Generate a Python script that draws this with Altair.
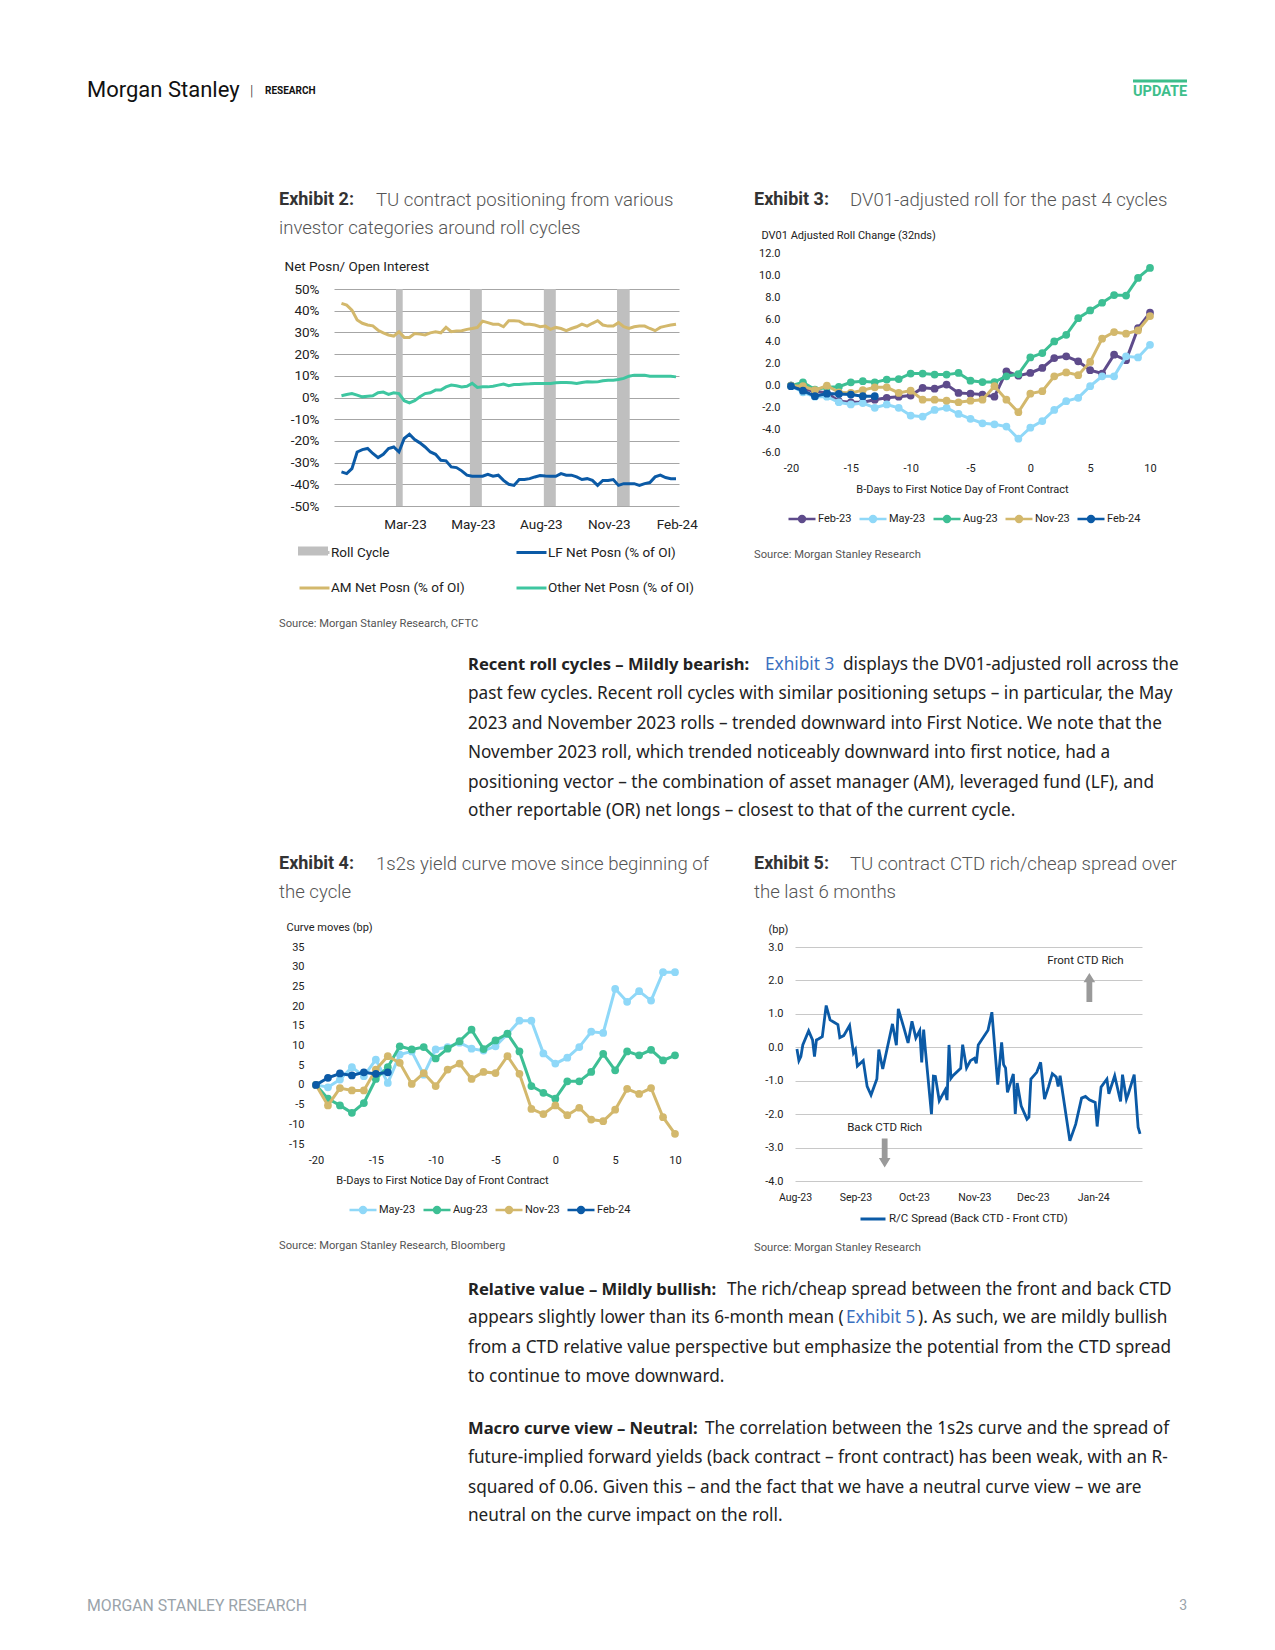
import altair as alt
import pandas as pd

# ------------------------------------------------------------------ data
# Exhibit 2: weekly net positioning, % of open interest
ex2_first_week = "2022-12-06"
ex2_am = [43.4, 42.6, 40.3, 35.7, 34.2, 33.4, 33.0, 31.0, 29.8, 28.8,
          28.3, 30.3, 27.7, 27.7, 29.5, 29.2, 28.8, 29.8, 30.3, 29.8,
          32.3, 30.3, 30.6, 30.8, 31.4, 31.8, 32.3, 35.2, 34.5, 33.8,
          33.8, 32.6, 35.4, 35.4, 35.2, 33.8, 33.8, 33.4, 32.6, 32.9,
          31.4, 32.3, 31.8, 30.8, 31.8, 32.6, 33.8, 32.9, 34.2, 35.4,
          33.4, 32.9, 32.9, 34.5, 32.6, 31.8, 32.6, 32.9, 32.9, 31.8,
          30.8, 32.3, 32.9, 33.4, 33.8]
ex2_other = [0.8, 1.4, 1.8, 1.1, 0.3, 0.6, 0.8, 2.2, 2.5, 1.4,
             2.2, 1.8, -1.5, -2.5, -1.5, 0.3, 1.8, 2.2, 3.4, 3.4,
             4.9, 5.7, 5.4, 4.9, 5.2, 6.5, 4.6, 4.9, 4.9, 5.2,
             5.7, 6.2, 5.4, 6.0, 6.0, 6.2, 6.3, 6.5, 6.5, 6.5,
             6.5, 6.8, 6.9, 6.9, 6.8, 6.5, 6.9, 7.2, 7.1, 7.2,
             7.7, 8.0, 8.0, 8.3, 8.8, 9.8, 10.3, 10.2, 10.2, 9.8,
             9.8, 9.8, 9.8, 9.8, 9.5]
ex2_lf = [-34.3, -35.1, -32.8, -25.1, -24.0, -23.5, -25.8, -27.7, -26.2, -23.5,
          -22.8, -25.1, -18.9, -16.9, -19.4, -20.9, -22.8, -25.1, -26.2, -28.9,
          -29.2, -32.0, -32.3, -33.8, -35.8, -36.3, -36.3, -36.3, -35.4, -36.3,
          -35.8, -38.2, -40.0, -40.5, -37.8, -37.8, -37.4, -36.6, -36.0, -36.2,
          -36.3, -36.3, -35.1, -35.8, -35.8, -36.6, -37.8, -37.4, -38.2, -40.5,
          -38.2, -38.2, -37.8, -40.5, -39.7, -39.7, -39.7, -40.5, -39.7, -39.2,
          -36.6, -35.8, -36.9, -37.4, -37.4]
ex2_roll_start = ["2023-02-17", "2023-05-27", "2023-09-03", "2023-12-10"]
ex2_roll_end = ["2023-02-26", "2023-06-12", "2023-09-19", "2023-12-27"]
ex2_roll_top = 50
ex2_roll_bottom = -50
ex2_domain = ["2022-11-26", "2024-03-02"]
ex2_tick_dates = ["2023-03-01", "2023-05-31", "2023-08-30", "2023-11-29", "2024-02-28"]
# legend is filled column by column: Roll Cycle / AM in the first column, LF / Other in the second
ex2_names = ["Roll Cycle", "AM Net Posn (% of OI)", "LF Net Posn (% of OI)", "Other Net Posn (% of OI)"]
ex2_colors = ["#BFBFBF", "#D3B86C", "#0B5AA6", "#3EC6A0"]

# Exhibit 3: DV01-adjusted roll change (32nds) by business day to first notice
bdays = list(range(-20, 11))
ex3_series = ["Feb-23", "May-23", "Aug-23", "Nov-23", "Feb-24"]
ex3_colors = ["#5E4B8B", "#8FD8F8", "#3DBF94", "#D3B86C", "#0B5AA6"]
ex3_feb23 = [0.0, -0.3, -0.5, -0.66, -1.4, -1.5, -1.5, -1.27, -1.1, -1.0,
             -0.9, -0.2, -0.27, 0.1, -0.66, -0.72, -0.8, -1.0, 1.3, 0.9,
             1.15, 1.6, 2.5, 2.65, 2.2, 1.4, 1.1, 2.8, 2.3, 5.2, 6.6]
ex3_may23 = [0.0, -0.6, -1.0, -1.0, -1.5, -1.7, -1.57, -2.0, -1.7, -2.0,
             -2.7, -2.8, -2.2, -2.0, -2.56, -3.0, -3.4, -3.5, -3.7, -4.8,
             -3.8, -3.2, -2.2, -1.4, -1.1, -0.05, 0.85, 0.85, 2.65, 2.55, 3.7]
ex3_aug23 = [0.0, 0.3, -0.36, -0.15, -0.1, 0.3, 0.4, 0.3, 0.55, 0.6,
             1.1, 1.1, 1.0, 1.0, 1.15, 0.45, 0.33, 0.33, 0.85, 1.05,
             2.55, 2.95, 4.0, 4.6, 6.1, 6.8, 7.5, 8.2, 8.15, 9.75, 10.65]
ex3_nov23 = [0.0, -0.05, -0.4, 0.0, -0.6, -0.66, -0.4, -0.15, -0.15, -0.66,
             -0.45, -1.27, -1.27, -1.36, -1.5, -1.36, -1.27, -0.05, -1.27, -2.4,
             -0.72, -0.5, 0.85, 1.2, 0.95, 2.15, 4.25, 4.85, 4.7, 5.0, 6.3]
ex3_feb24 = [-0.05, -0.45, -0.95, -0.72, -0.75, -0.8, -0.95, -0.95]

# Exhibit 4: 1s2s curve move (bp)
ex4_series = ["May-23", "Aug-23", "Nov-23", "Feb-24"]
ex4_colors = ["#8FD8F8", "#3DBF94", "#D3B86C", "#0B5AA6"]
ex4_may23 = [0.0, -0.6, 1.35, 4.5, 2.2, 6.4, 0.5, 7.7, 8.5, 2.6,
             9.0, 9.6, 10.7, 9.2, 8.7, 9.8, 12.9, 16.3, 16.3, 8.0,
             5.4, 6.9, 9.6, 13.5, 13.2, 24.4, 21.1, 23.8, 21.4, 28.6, 28.6]
ex4_aug23 = [0.0, -3.5, -5.2, -7.1, -4.6, 1.5, 4.5, 9.8, 9.0, 9.6,
             6.7, 9.2, 11.1, 14.0, 9.1, 11.3, 13.0, 8.5, -0.3, -2.0,
             -3.5, 0.9, 0.9, 3.3, 7.9, 3.7, 8.5, 7.5, 8.9, 6.2, 7.5]
ex4_nov23 = [0.0, -5.2, -0.8, -1.4, -1.4, 3.9, 7.3, 5.6, 0.25, 3.0,
             -0.3, 3.9, 5.4, 1.5, 3.3, 3.0, 7.3, 2.8, -6.1, -7.4,
             -5.2, -7.7, -5.8, -8.8, -9.2, -6.3, -1.0, -2.3, -0.8, -8.2, -12.4]
ex4_feb24 = [0.0, 1.8, 2.9, 2.4, 3.2, 2.8, 3.2]

# Exhibit 5: CTD rich/cheap spread (bp)
ex5_dates = ["2023-08-02", "2023-08-03", "2023-08-04", "2023-08-05", "2023-08-08", "2023-08-10",
             "2023-08-11", "2023-08-12", "2023-08-13", "2023-08-15", "2023-08-17", "2023-08-19",
             "2023-08-21", "2023-08-23", "2023-08-24", "2023-08-26", "2023-08-29", "2023-08-31",
             "2023-09-01", "2023-09-02", "2023-09-05", "2023-09-07", "2023-09-09", "2023-09-12",
             "2023-09-13", "2023-09-15", "2023-09-20", "2023-09-22", "2023-09-23", "2023-09-26",
             "2023-09-28", "2023-09-30",
             "2023-10-02", "2023-10-04", "2023-10-05", "2023-10-06", "2023-10-07", "2023-10-10",
             "2023-10-11", "2023-10-12", "2023-10-14", "2023-10-17", "2023-10-18", "2023-10-19",
             "2023-10-20", "2023-10-21", "2023-10-25", "2023-10-26", "2023-10-28", "2023-10-30",
             "2023-11-01", "2023-11-02", "2023-11-03", "2023-11-08", "2023-11-10", "2023-11-13",
             "2023-11-15", "2023-11-16", "2023-11-17", "2023-11-18", "2023-11-21", "2023-11-22",
             "2023-11-23", "2023-11-25", "2023-11-28", "2023-11-29", "2023-11-30",
             "2023-12-03", "2023-12-05", "2023-12-07", "2023-12-09", "2023-12-11", "2023-12-13",
             "2023-12-14", "2023-12-15", "2023-12-20", "2023-12-23", "2023-12-26", "2023-12-28",
             "2023-12-30",
             "2024-01-02", "2024-01-03", "2024-01-05", "2024-01-08", "2024-01-09", "2024-01-12",
             "2024-01-15", "2024-01-16", "2024-01-18", "2024-01-19", "2024-01-22", "2024-01-24",
             "2024-01-25"]
ex5_vals = [-0.05, -0.40, -0.28, 0.07, 0.49, 0.22, -0.28, 0.22, 0.25, 0.32, 1.25, 0.82,
            0.75, 0.68, 0.29, 0.35, 0.65, -0.17,
            -0.07, -0.56, -0.40, -1.17, -1.43, -0.95, -0.07, -0.65, 0.70, 0.06, 1.15, 0.55,
            0.13, 0.78,
            0.28, 0.50, -0.45, 0.53, -0.15, -2.00, -0.86, -0.87, -1.60, -1.28, -1.58, 0.07,
            -0.93, -0.85, -0.63, 0.08, -0.62, -0.40,
            -0.33, -0.48, 0.07, 0.51, 1.05, -1.12, 0.15, -0.52, -0.62, -1.35, -0.80, -1.99,
            -1.07, -1.75, -2.15, -2.09, -0.95,
            -0.75, -0.45, -1.55, -1.19, -0.79, -0.89, -1.17, -0.85, -2.80, -2.30, -1.52, -1.47,
            -1.57,
            -1.65, -2.37, -1.19, -0.95, -1.39, -0.85, -1.62, -0.82, -1.55, -1.39, -0.82, -2.39,
            -2.59]
ex5_name = "R/C Spread (Back CTD - Front CTD)"
ex5_domain = ["2023-08-01", "2024-01-26"]
ex5_tick_dates = ["2023-08-01", "2023-09-01", "2023-10-01", "2023-11-01", "2023-12-01", "2024-01-01"]
ex5_note_text = ["Front CTD Rich", "Back CTD Rich"]
ex5_note_date = ["2023-12-28", "2023-09-16"]
ex5_note_val = [2.59, -2.42]
ex5_arrow_dir = ["up", "down"]
ex5_arrow_date = ["2023-12-30", "2023-09-16"]
ex5_arrow_val = [1.79, -3.16]

# ------------------------------------------------------------------ style / layout
FONT = "Roboto"
BODY = "Noto Sans"
BODY_SIZE = 17.2
BOLD_SIZE = 16.6
TITLE_SIZE = 18.6
DARK = "#222222"
GREY = "#555555"
LINK = "#3A70C0"
GREEN = "#3DBE8B"

COLS = [8, 334, 679, 795, 1142, 1267]
ROWS = [8, 253, 506, 947, 1181, 1642]
CW = [COLS[i + 1] - COLS[i] for i in range(5)]
RH = [ROWS[i + 1] - ROWS[i] for i in range(5)]

one = pd.DataFrame({"k": [0]})


def dt(s):
    t = pd.Timestamp(s)
    return alt.DateTime(year=t.year, month=t.month, date=t.day, utc=True)


def neg(fmt):
    return f"(datum.value < 0 ? '-' : '') + format(abs(datum.value), '{fmt}')"


def txt(cell, x, y, s, size, color=DARK, weight="normal", font=BODY, align="left"):
    c, r = cell
    return alt.Chart(one).mark_text(
        text=s, x=x - COLS[c], y=y - ROWS[r], align=align, baseline="middle",
        fontSize=size, fontWeight=weight, font=font, color=color)


def spacer(c, r):
    return alt.Chart(one).mark_text(text=" ", opacity=0, align="left", baseline="top",
                                    fontSize=1).encode(
        x=alt.value(0), y=alt.value(0)).properties(width=CW[c], height=RH[r])


# ------------------------------------------------------------------ Exhibit 2
wk = pd.date_range(ex2_first_week, periods=len(ex2_am), freq="7D").strftime("%Y-%m-%d")
rows2 = []
for name, vals in [(ex2_names[1], ex2_am), (ex2_names[3], ex2_other), (ex2_names[2], ex2_lf)]:
    for d, v in zip(wk, vals):
        rows2.append({"date": d, "value": v, "series": name})
df2 = pd.DataFrame(rows2)
roll_df = pd.DataFrame({"start": ex2_roll_start, "end": ex2_roll_end,
                        "top": ex2_roll_top, "bottom": ex2_roll_bottom, "series": ex2_names[0]})

ax2x = alt.Axis(values=[dt(d) for d in ex2_tick_dates], labelExpr="utcFormat(datum.value, '%b-%y')",
                grid=False, domain=False, ticks=False, tickSize=0, labelPadding=11, labelFont=FONT,
                labelFontSize=13.5, labelColor=DARK, labelFlush=False, labelOverlap=False, title=None)
sc2x = alt.Scale(type="utc", domain=[dt(d) for d in ex2_domain], nice=False)
ax2y = alt.Axis(values=list(range(-50, 51, 10)), labelExpr="datum.value + '%'", grid=True,
                gridColor="#A6A6A6", gridWidth=1, domain=False, ticks=False, tickSize=0,
                labelPadding=15, labelFont=FONT, labelFontSize=13.5, labelColor=DARK,
                title="Net Posn/ Open Interest", titleAngle=0, titleX=-50, titleY=13,
                titleAlign="left", titleBaseline="middle", titleFont=FONT, titleFontSize=13.5,
                titleFontWeight="normal", titleColor=DARK)
sc2y = alt.Scale(domain=[-50, 50], range=[RH[1], 36], nice=False, zero=False)
LEG2_X, LEG2_Y = 298 - COLS[1], 551 - 15 - ROWS[1]
leg2 = alt.Legend(title=None, orient="none", legendX=LEG2_X, legendY=LEG2_Y, columns=2,
                  columnPadding=45, rowPadding=12.5, symbolType="stroke", symbolSize=900,
                  symbolStrokeWidth=3, labelFont=FONT, labelFontSize=13.5, labelColor=DARK,
                  labelOffset=0, padding=0, labelLimit=400)
leg_roll = alt.Legend(title=None, orient="none", legendX=LEG2_X, legendY=LEG2_Y,
                      symbolType="M-1,-0.3H1V0.3H-1Z", symbolSize=900, symbolStrokeWidth=0,
                      labelFont=FONT, labelFontSize=13.5, labelOpacity=0, labelOffset=0, padding=0)

bars2 = alt.Chart(roll_df).mark_rect(clip=False).encode(
    x=alt.X("start:T", scale=sc2x, axis=ax2x), x2="end:T",
    y=alt.Y("top:Q", scale=sc2y, axis=ax2y), y2="bottom:Q",
    fill=alt.Fill("series:N", scale=alt.Scale(domain=ex2_names[:1], range=ex2_colors[:1]),
                  legend=leg_roll))
lines2 = alt.Chart(df2).mark_line(strokeWidth=3, clip=False).encode(
    x=alt.X("date:T", scale=sc2x, axis=ax2x), y=alt.Y("value:Q", scale=sc2y, axis=ax2y),
    stroke=alt.Stroke("series:N", scale=alt.Scale(domain=ex2_names, range=ex2_colors), legend=leg2))
ex2 = alt.layer(bars2, lines2).properties(width=CW[1], height=RH[1])


# ------------------------------------------------------------------ Exhibit 3 / 4 helpers
LINE_SYMBOL = ("M-1,0H1M-0.22,0A0.22,0.22,0,1,1,0.22,0A0.22,0.22,0,1,1,-0.22,0Z"
               "M-0.1,0A0.1,0.1,0,1,1,0.1,0A0.1,0.1,0,1,1,-0.1,0Z")


def bday_chart(series, colors, arrays, xrange, ydom, yrange, yvals, yfmt, axoff, xtitle_x,
               xtitle_y, ytitle, ytitle_x, ytitle_y, ylabpad, legx, legy, width, height):
    rows = []
    for name, vals in zip(series, arrays):
        for b, v in zip(bdays, vals):
            rows.append({"bday": b, "value": v, "series": name})
    df = pd.DataFrame(rows)
    axx = alt.Axis(values=list(range(-20, 11, 5)), offset=axoff, grid=False, domain=False,
                   ticks=False, tickSize=0, labelPadding=10, labelFont=FONT, labelFontSize=11,
                   labelColor=DARK, labelFlush=False, labelOverlap=False,
                   labelExpr="(datum.value < 0 ? '-' : '') + abs(datum.value)",
                   title="B-Days to First Notice Day of Front Contract", titleX=xtitle_x,
                   titleY=xtitle_y, titleAlign="center", titleBaseline="middle", titleFont=FONT,
                   titleFontSize=11, titleFontWeight="normal", titleColor=DARK)
    axy = alt.Axis(values=yvals, grid=False, domain=False, ticks=False, tickSize=0,
                   labelPadding=ylabpad, labelFont=FONT, labelFontSize=11, labelColor=DARK,
                   labelExpr=neg(yfmt), labelOverlap=False, labelFlush=False,
                   title=ytitle, titleAngle=0, titleX=ytitle_x, titleY=ytitle_y, titleAlign="left",
                   titleBaseline="middle", titleFont=FONT, titleFontSize=11,
                   titleFontWeight="normal", titleColor=DARK)
    scx = alt.Scale(domain=[-20, 10], range=xrange, nice=False, zero=False)
    scy = alt.Scale(domain=ydom, range=yrange, nice=False, zero=False)
    leg = alt.Legend(title=None, orient="none", legendX=legx, legendY=legy, direction="horizontal",
                     columnPadding=2, symbolType=LINE_SYMBOL, symbolSize=729,
                     symbolStrokeWidth=2.5, labelFont=FONT, labelFontSize=11, labelColor=DARK,
                     labelOffset=1, padding=0)
    stroke = alt.Stroke("series:N", scale=alt.Scale(domain=series, range=colors), legend=leg)
    fill = alt.Fill("series:N", scale=alt.Scale(domain=series, range=colors), legend=None)
    layers = []
    for name in series:
        base = alt.Chart(df).transform_filter(alt.datum.series == name).encode(
            x=alt.X("bday:Q", scale=scx, axis=axx), y=alt.Y("value:Q", scale=scy, axis=axy))
        layers.append(base.mark_line(strokeWidth=3, clip=False).encode(stroke=stroke))
        layers.append(base.mark_point(filled=True, size=60, opacity=1, clip=False).encode(fill=fill))
    return alt.layer(*layers).properties(width=width, height=height)


ex3 = bday_chart(ex3_series, ex3_colors, [ex3_feb23, ex3_may23, ex3_aug23, ex3_nov23, ex3_feb24],
                 xrange=[791 - COLS[3], 1150 - COLS[3]], ydom=[-6, 12], yrange=[452 - ROWS[1], 0],
                 yvals=list(range(-6, 13, 2)), yfmt=".1f", axoff=452 - ROWS[2],
                 xtitle_x=962 - COLS[3], xtitle_y=489 - 452,
                 ytitle="DV01 Adjusted Roll Change (32nds)", ytitle_x=761 - COLS[3],
                 ytitle_y=235 - ROWS[1], ylabpad=15, legx=787 - COLS[3], legy=519 - 15 - ROWS[1],
                 width=CW[3], height=RH[1])

ex4 = bday_chart(ex4_series, ex4_colors, [ex4_may23, ex4_aug23, ex4_nov23, ex4_feb24],
                 xrange=[316 - COLS[1], 675 - COLS[1]], ydom=[-15, 35], yrange=[1144 - ROWS[3], 0],
                 yvals=list(range(-15, 36, 5)), yfmt="d", axoff=1144 - ROWS[4],
                 xtitle_x=442 - COLS[1], xtitle_y=1180 - 1144,
                 ytitle="Curve moves (bp)", ytitle_x=286 - COLS[1], ytitle_y=927 - ROWS[3],
                 ylabpad=30, legx=348 - COLS[1], legy=1210 - 15 - ROWS[3],
                 width=CW[1], height=RH[3])

# ------------------------------------------------------------------ Exhibit 5
df5 = pd.DataFrame({"date": ex5_dates, "value": ex5_vals, "series": ex5_name})
notes5 = pd.DataFrame({"date": ex5_note_date, "value": ex5_note_val, "label": ex5_note_text})
arrows5 = pd.DataFrame({"date": ex5_arrow_date, "value": ex5_arrow_val, "dir": ex5_arrow_dir})
UP = "M-0.2,1L0.2,1L0.2,-0.35L0.4,-0.35L0,-1L-0.4,-0.35L-0.2,-0.35Z"
DOWN = "M-0.2,-1L0.2,-1L0.2,0.35L0.4,0.35L0,1L-0.4,0.35L-0.2,0.35Z"

sc5x = alt.Scale(type="utc", domain=[dt(d) for d in ex5_domain], nice=False)
ax5x = alt.Axis(values=[dt(d) for d in ex5_tick_dates], labelExpr="utcFormat(datum.value, '%b-%y')",
                grid=False, domain=False, ticks=False, tickSize=0, labelPadding=11, labelFont=FONT,
                labelFontSize=10.5, labelColor=DARK, labelFlush=False, labelOverlap=False, title=None)
sc5y = alt.Scale(domain=[-4, 3], nice=False, zero=False)
ax5y = alt.Axis(values=list(range(-4, 4)), labelExpr=neg(".1f"), grid=True, gridColor="#C8C8C8",
                gridWidth=1, domain=False, ticks=False, tickSize=0, labelPadding=12, labelFont=FONT,
                labelFontSize=11, labelColor=DARK, labelFlush=False, labelOverlap=False,
                title="(bp)", titleAngle=0, titleX=768 - COLS[3], titleY=929 - ROWS[3],
                titleAlign="left", titleBaseline="middle", titleFont=FONT, titleFontSize=11,
                titleFontWeight="normal", titleColor=DARK)
leg5 = alt.Legend(title=None, orient="none", legendX=859 - COLS[3], legendY=1217 - 12 - ROWS[3],
                  symbolType="stroke", symbolSize=625, symbolStrokeWidth=3, labelFont=FONT,
                  labelFontSize=11.5, labelColor=DARK, labelOffset=2, padding=0, labelLimit=400)
x5 = alt.X("date:T", scale=sc5x, axis=ax5x)
y5 = alt.Y("value:Q", scale=sc5y, axis=ax5y)
line5 = alt.Chart(df5).mark_line(strokeWidth=2.8, clip=False).encode(
    x=x5, y=y5,
    stroke=alt.Stroke("series:N", scale=alt.Scale(domain=[ex5_name], range=["#0B5AA6"]), legend=leg5))
text5 = alt.Chart(notes5).mark_text(font=FONT, fontSize=11.5, color=DARK, baseline="middle").encode(
    x=x5, y=y5, text="label:N")
arrow5 = alt.Chart(arrows5).mark_point(filled=True, size=841, opacity=1, color="#9A9A9A",
                                        strokeWidth=0).encode(
    x=x5, y=y5,
    shape=alt.Shape("dir:N", scale=alt.Scale(domain=["up", "down"], range=[UP, DOWN]), legend=None))
ex5 = alt.layer(line5, text5, arrow5).properties(width=CW[3], height=RH[3])

# ------------------------------------------------------------------ page text
T0 = (0, 0)
head = [
    txt(T0, 87, 90, "Morgan Stanley", 22, color="#111111", font=FONT),
    txt(T0, 250, 91, "|", 15, color="#333333", font=FONT, weight=300),
    txt(T0, 265, 91, "RESEARCH", 10, color="#111111", font=FONT, weight="bold"),
    txt(T0, 1133, 92, "UPDATE", 14.5, color=GREEN, font=FONT, weight="bold"),
    alt.Chart(one).mark_rule(color=GREEN, strokeWidth=3).encode(
        x=alt.value(1133 - COLS[0]), x2=alt.value(1187 - COLS[0]), y=alt.value(81 - ROWS[0])),
    txt(T0, 279, 200, "Exhibit 2:", 18, color="#333333", font=FONT, weight="bold"),
    txt(T0, 376, 200, "TU contract positioning from various", TITLE_SIZE, color=GREY, font=FONT, weight=300),
    txt(T0, 279, 228, "investor categories around roll cycles", TITLE_SIZE, color=GREY, font=FONT, weight=300),
    txt(T0, 754, 200, "Exhibit 3:", 18, color="#333333", font=FONT, weight="bold"),
    txt(T0, 850, 200, "DV01-adjusted roll for the past 4 cycles", TITLE_SIZE, color=GREY, font=FONT, weight=300),
]
page0 = alt.layer(*head).properties(width=CW[0], height=RH[0])

T2 = (0, 2)
p1 = ["past few cycles. Recent roll cycles with similar positioning setups \u2013 in particular, the May",
      "2023 and November 2023 rolls \u2013 trended downward into First Notice. We note that the",
      "November 2023 roll, which trended noticeably downward into first notice, had a",
      "positioning vector \u2013 the combination of asset manager (AM), leveraged fund (LF), and",
      "other reportable (OR) net longs \u2013 closest to that of the current cycle."]
p1_y = [694, 724, 753, 783, 811]
mid = [
    txt(T2, 279, 624, "Source: Morgan Stanley Research, CFTC", 11.2, color=GREY, font=FONT),
    txt(T2, 754, 555, "Source: Morgan Stanley Research", 11.2, color=GREY, font=FONT),
    txt(T2, 468, 665, "Recent roll cycles \u2013 Mildly bearish:", BOLD_SIZE, weight="bold"),
    txt(T2, 765, 665, "Exhibit 3", BODY_SIZE, color=LINK),
    txt(T2, 843, 665, "displays the DV01-adjusted roll across the", BODY_SIZE),
]
mid += [txt(T2, 468, y, s, BODY_SIZE) for s, y in zip(p1, p1_y)]
mid += [
    txt(T2, 279, 864, "Exhibit 4:", 18, color="#333333", font=FONT, weight="bold"),
    txt(T2, 376, 864, "1s2s yield curve move since beginning of", TITLE_SIZE, color=GREY, font=FONT, weight=300),
    txt(T2, 279, 892, "the cycle", TITLE_SIZE, color=GREY, font=FONT, weight=300),
    txt(T2, 754, 864, "Exhibit 5:", 18, color="#333333", font=FONT, weight="bold"),
    txt(T2, 850, 864, "TU contract CTD rich/cheap spread over", TITLE_SIZE, color=GREY, font=FONT, weight=300),
    txt(T2, 754, 892, "the last 6 months", TITLE_SIZE, color=GREY, font=FONT, weight=300),
]
page2 = alt.layer(*mid).properties(width=CW[0], height=RH[2])

T4 = (0, 4)
p2 = ["from a CTD relative value perspective but emphasize the potential from the CTD spread",
      "to continue to move downward."]
p2_y = [1348, 1377]
p3 = ["future-implied forward yields (back contract \u2013 front contract) has been weak, with an R-",
      "squared of 0.06. Given this \u2013 and the fact that we have a neutral curve view \u2013 we are",
      "neutral on the curve impact on the roll."]
p3_y = [1458, 1488, 1516]
low = [
    txt(T4, 279, 1246, "Source: Morgan Stanley Research, Bloomberg", 11.2, color=GREY, font=FONT),
    txt(T4, 754, 1248, "Source: Morgan Stanley Research", 11.2, color=GREY, font=FONT),
    txt(T4, 468, 1290, "Relative value \u2013 Mildly bullish:", BOLD_SIZE, weight="bold"),
    txt(T4, 727, 1290, "The rich/cheap spread between the front and back CTD", BODY_SIZE),
    txt(T4, 468, 1318, "appears slightly lower than its 6-month mean (", BODY_SIZE),
    txt(T4, 846, 1318, "Exhibit 5", BODY_SIZE, color=LINK),
    txt(T4, 918, 1318, "). As such, we are mildly bullish", BODY_SIZE),
    txt(T4, 468, 1429, "Macro curve view \u2013 Neutral:", BOLD_SIZE, weight="bold"),
    txt(T4, 705, 1429, "The correlation between the 1s2s curve and the spread of", BODY_SIZE),
    txt(T4, 87, 1606, "MORGAN STANLEY RESEARCH", 15.8, color="#9AA3AA", font=FONT),
    txt(T4, 1187, 1606, "3", 14, color="#9AA3AA", font=FONT, align="right"),
]
low += [txt(T4, 468, y, s, BODY_SIZE) for s, y in zip(p2, p2_y)]
low += [txt(T4, 468, y, s, BODY_SIZE) for s, y in zip(p3, p3_y)]
page4 = alt.layer(*low).properties(width=CW[0], height=RH[4])

# ------------------------------------------------------------------ assemble grid
cells = [
    page0, spacer(1, 0), spacer(2, 0), spacer(3, 0), spacer(4, 0),
    spacer(0, 1), ex2, spacer(2, 1), ex3, spacer(4, 1),
    page2, spacer(1, 2), spacer(2, 2), spacer(3, 2), spacer(4, 2),
    spacer(0, 3), ex4, spacer(2, 3), ex5, spacer(4, 3),
    page4, spacer(1, 4), spacer(2, 4), spacer(3, 4), spacer(4, 4),
]
chart = alt.concat(*cells, columns=5, spacing=0, bounds="flush", align="each").resolve_scale(
    color="independent", fill="independent", stroke="independent", shape="independent").properties(
    padding=0, background="white").configure_view(strokeWidth=0)

chart.save("out.html", embed_options={"renderer": "svg", "actions": False})
